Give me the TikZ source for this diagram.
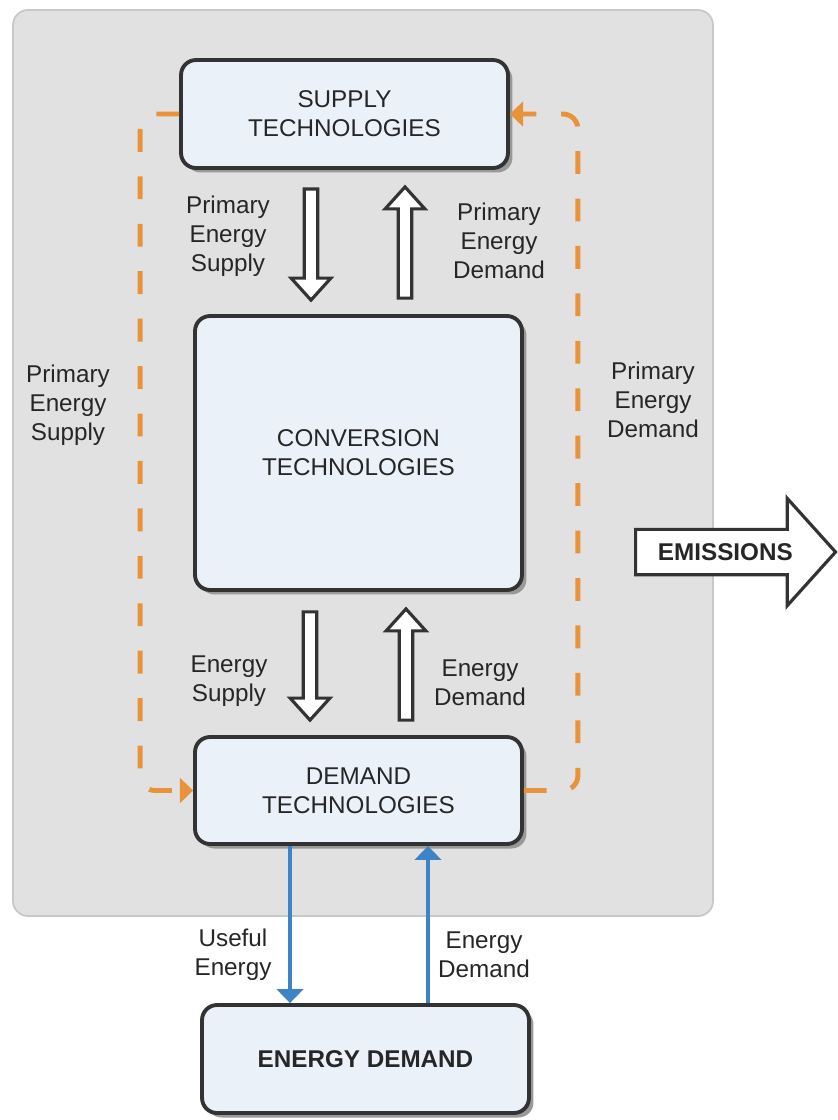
\documentclass[tikz,border=0pt]{standalone}
\usepackage{fontspec}
\setmainfont{Liberation Sans}
\usetikzlibrary{calc,shadows,shapes.arrows,arrows.meta}
\definecolor{panel}{HTML}{E1E1E1}
\definecolor{panelline}{HTML}{C8C8C8}
\definecolor{boxfill}{HTML}{EAF1F9}
\definecolor{boxline}{HTML}{333333}
\definecolor{flow}{HTML}{E8933A}
\definecolor{useful}{HTML}{3D83C5}
\newcommand{\fa}[2]{\draw[fat] let \p1=#1, \p2=#2, \n1={sign(\y2-\y1)} in
  ({\x1-3.8pt},\y1) -- ({\x1-3.8pt},{\y2-\n1*12.5pt}) -- ({\x1-11.3pt},{\y2-\n1*12.5pt})
  -- (\x1,\y2) -- ({\x1+11.3pt},{\y2-\n1*12.5pt}) -- ({\x1+3.8pt},{\y2-\n1*12.5pt})
  -- ({\x1+3.8pt},\y1) -- cycle;}

\begin{document}
\begin{tikzpicture}[x=0.02cm,y=-0.02cm,
  font=\fontsize{13.8}{16.5}\selectfont, text=black!85,
  tech/.style={draw=boxline,line width=2.2pt,fill=boxfill,rounded corners=0.3cm,align=center,
    minimum width=6.54cm,drop shadow={shadow xshift=0.09cm,shadow yshift=-0.09cm,fill=black!40,opacity=1}},
  lbl/.style={align=center},
  fat/.style={draw=black!80,line width=1.8pt,fill=white,line join=miter},
  dashflow/.style={draw=flow,line width=2.8pt,dash pattern=on 13pt off 14pt,rounded corners=0.3cm,
    -{Triangle[length=7.5pt,width=14pt]}},
  usefularrow/.style={draw=useful,line width=2.2pt,-{Triangle[length=8pt,width=15pt]}}]
  \useasboundingbox (0,0) rectangle (838,1120);
  \filldraw[fill=panel,draw=panelline,line width=1pt,rounded corners=0.3cm] (13,10) rectangle (713,916);
  \node[tech,minimum height=2.16cm] (supply) at (344.5,114) {SUPPLY\\TECHNOLOGIES};
  \node[tech,minimum height=5.48cm] (conv) at (358.5,453) {CONVERSION\\TECHNOLOGIES};
  \node[tech,minimum height=2.14cm] (demand) at (358.5,790.5) {DEMAND\\TECHNOLOGIES};
  \node[tech,minimum height=2.16cm] (edemand) at (365.5,1059) {\textbf{ENERGY DEMAND}};
  \node[single arrow,draw=black!80,line width=1.8pt,fill=white,line join=miter,anchor=tail,
    minimum height=4.0cm,single arrow head extend=0.62cm,single arrow tip angle=96,
    text height=10pt,text depth=0pt,inner ysep=7pt] (emis) at (634,552) {\textbf{EMISSIONS}};
  \fa{($(supply.south)+(-33.5,19)$)}{($(conv.north)+(-47.5,-14)$)}
  \fa{($(conv.north)+(46.5,-16)$)}{($(supply.south)+(60.5,17)$)}
  \fa{($(conv.south)+(-48.5,20)$)}{($(demand.north)+(-48.5,-15)$)}
  \fa{($(demand.north)+(47.5,-15)$)}{($(conv.south)+(47.5,17)$)}
  \draw[dashflow] (supply.west) -- ++(-39,0) |- (demand.west);
  \draw[dashflow] (demand.east) -- ++(54,0) |- (supply.east);
  \draw[usefularrow] ($(demand.south)+(-68.5,0)$) -- ($(edemand.north)+(-75.5,0)$);
  \draw[usefularrow] ($(edemand.north)+(62.5,0)$) -- ($(demand.south)+(69.5,0)$);
  \node[lbl] (pes) at (228,236) {Primary\\Energy\\Supply};
  \node[lbl] (ped) at (499,241) {Primary\\Energy\\Demand};
  \node[lbl] (pesl) at (68,405) {Primary\\Energy\\Supply};
  \node[lbl] (pedr) at (653,400) {Primary\\Energy\\Demand};
  \node[lbl] (es) at (229,681) {Energy\\Supply};
  \node[lbl] (ed) at (480,683) {Energy\\Demand};
  \node[lbl] (ue) at (233,955) {Useful\\Energy};
  \node[lbl] (edb) at (484,955) {Energy\\Demand};
\end{tikzpicture}
\end{document}
